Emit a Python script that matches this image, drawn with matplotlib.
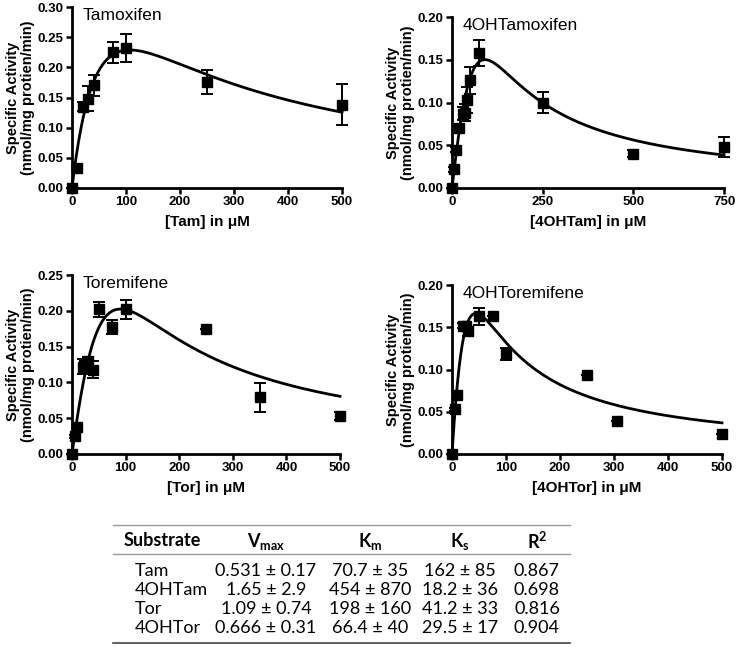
import numpy as np
import matplotlib
matplotlib.use("Agg")
import matplotlib.pyplot as plt
from matplotlib.lines import Line2D

plt.rcParams['font.family'] = ['Liberation Sans', 'DejaVu Sans']

tam_x = [0, 10, 20, 30, 40, 75, 100, 250, 500]
tam_y = [0, 0.033, 0.135, 0.148, 0.170, 0.225, 0.232, 0.175, 0.138]
tam_e = [0, 0.003, 0.008, 0.021, 0.017, 0.017, 0.023, 0.020, 0.034]

ohtam_x = [0, 5, 10, 20, 30, 35, 40, 50, 75, 250, 500, 750]
ohtam_y = [0, 0.022, 0.045, 0.070, 0.087, 0.088, 0.103, 0.126, 0.158, 0.100, 0.040, 0.048]
ohtam_e = [0, 0.003, 0.003, 0.003, 0.008, 0.010, 0.015, 0.016, 0.015, 0.012, 0.004, 0.012]

tor_x = [0, 5, 10, 20, 25, 30, 40, 50, 75, 100, 250, 350, 500]
tor_y = [0, 0.025, 0.038, 0.122, 0.125, 0.130, 0.118, 0.202, 0.177, 0.202, 0.174, 0.079, 0.053]
tor_e = [0, 0.002, 0.002, 0.010, 0.005, 0.005, 0.012, 0.010, 0.010, 0.013, 0.0, 0.020, 0.006]

ohtor_x = [0, 5, 10, 20, 25, 30, 50, 75, 100, 250, 305, 500]
ohtor_y = [0, 0.053, 0.070, 0.152, 0.152, 0.145, 0.163, 0.163, 0.118, 0.093, 0.039, 0.024]
ohtor_e = [0, 0.002, 0.005, 0.003, 0.003, 0.005, 0.010, 0.0, 0.007, 0.0, 0.0, 0.0]

# ---- fitted parameters (table) ----
substrates = ["Tam", "4OHTam", "Tor", "4OHTor"]
vmax = [0.531, 1.65, 1.09, 0.666]
vmax_err = ["0.17", "2.9", "0.74", "0.31"]
km = [70.7, 454, 198, 66.4]
km_err = ["35", "870", "160", "40"]
ks = [162, 18.2, 41.2, 29.5]
ks_err = ["85", "36", "33", "17"]
r2 = ["0.867", "0.698", "0.816", "0.904"]

titles = ["Tamoxifen", "4OHTamoxifen", "Toremifene", "4OHToremifene"]
xlabels = ["[Tam] in \u03bcM", "[4OHTam] in \u03bcM", "[Tor] in \u03bcM", "[4OHTor] in \u03bcM"]

W, H = 737, 672
fig = plt.figure(figsize=(W / 100, H / 100), dpi=100)

# axes boxes in pixels: left, right, top, bottom
boxes = [(72, 342, 7, 188), (452, 724, 17, 188), (72, 340, 275, 454), (452, 722, 285, 454)]
ylims = [0.30, 0.20, 0.25, 0.20]
xmaxs = [500, 750, 500, 500]
xticks = [[0, 100, 200, 300, 400, 500], [0, 250, 500, 750],
          [0, 100, 200, 300, 400, 500], [0, 100, 200, 300, 400, 500]]
data = [(tam_x, tam_y, tam_e), (ohtam_x, ohtam_y, ohtam_e),
        (tor_x, tor_y, tor_e), (ohtor_x, ohtor_y, ohtor_e)]

for i in range(4):
    l, r, t, b = boxes[i]
    ax = fig.add_axes([l / W, 1 - b / H, (r - l) / W, (b - t) / H])
    x, y, e = data[i]
    ax.errorbar(x, y, yerr=e, fmt='s', color='black', ms=6.5, capsize=4,
                elinewidth=1.4, capthick=1.4, clip_on=False, zorder=3)
    s = np.linspace(0, xmaxs[i], 500)
    v = vmax[i] * s / (km[i] + s + s ** 2 / ks[i])
    ax.plot(s, v, color='black', lw=2, clip_on=False)
    ax.set_xlim(0, xmaxs[i])
    ax.set_ylim(0, ylims[i])
    ax.set_xticks(xticks[i])
    yt = np.arange(0, ylims[i] + 0.001, 0.05)
    ax.set_yticks(yt)
    ax.set_yticklabels(["%.2f" % v for v in yt])
    for sp in ['top', 'right']:
        ax.spines[sp].set_visible(False)
    for sp in ['left', 'bottom']:
        ax.spines[sp].set_linewidth(2)
    ax.tick_params(width=1.8, length=4, labelsize=9.5, pad=2)
    for lab in ax.get_xticklabels() + ax.get_yticklabels():
        lab.set_fontweight('bold')
    ax.set_xlabel(xlabels[i], fontsize=11, fontweight='bold', labelpad=5)
    ax.set_ylabel("Specific Activity\n(nmol/mg protien/min)", fontsize=10.5,
                  fontweight='bold', labelpad=2, linespacing=1.05)
    ax.text(0.04, 0.995, titles[i], transform=ax.transAxes, fontsize=12.5,
            va='top', ha='left')

# ---- table ----
plt.rcParams['mathtext.fontset'] = 'custom'
tfont = ['Lato', 'DejaVu Sans']


def fx(px):
    return px / W


def fy(py):
    return 1 - py / H


fig.add_artist(Line2D([fx(113), fx(570)], [fy(525), fy(525)], color='#999999', lw=1))
fig.add_artist(Line2D([fx(113), fx(570)], [fy(554), fy(554)], color='#999999', lw=1))
fig.add_artist(Line2D([fx(113), fx(570)], [fy(643), fy(643)], color='#444444', lw=1.2))

col_x = [162, 266, 370, 460, 537]
headers = ["Substrate", "V$_\\mathregular{max}$", "K$_\\mathregular{m}$",
           "K$_\\mathregular{s}$", "R$^\\mathregular{2}$"]
for cx, h in zip(col_x, headers):
    fig.text(fx(cx), fy(541), h, ha='center', va='center', fontsize=13,
             fontweight='bold', family=tfont)

row_y = [571, 590, 609, 628]
for j in range(4):
    cells = ["%s \u00b1 %s" % (vmax[j], vmax_err[j]),
             "%s \u00b1 %s" % (km[j], km_err[j]),
             "%s \u00b1 %s" % (ks[j], ks_err[j]),
             r2[j]]
    fig.text(fx(135), fy(row_y[j]), substrates[j], ha='left', va='center',
             fontsize=13, family=tfont)
    for cx, c in zip(col_x[1:], cells):
        fig.text(fx(cx), fy(row_y[j]), c, ha='center', va='center',
                 fontsize=13, family=tfont)

fig.savefig("out.png", dpi=100)
